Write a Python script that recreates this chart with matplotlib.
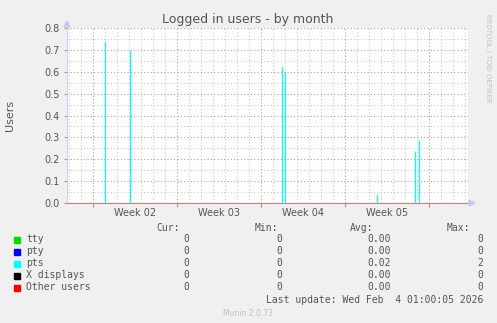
import numpy as np
import matplotlib.pyplot as plt
from matplotlib.patches import Rectangle, Polygon
from matplotlib.ticker import FixedLocator, MultipleLocator

W, H = 497, 323

# days since left edge of the graph
pts_day = [3.17, 5.25, 17.9, 18.15, 25.83, 29.0, 29.3]
pts_users = [0.74, 0.70, 0.62, 0.60, 0.04, 0.24, 0.29]

week_start = [2.17, 9.17, 16.17, 23.17, 30.17]
week_labels = ['Week 02', 'Week 03', 'Week 04', 'Week 05']

series = ['tty', 'pty', 'pts', 'X displays', 'Other users']
colors = ['#00e000', '#0000ff', '#00ffff', '#000000', '#ff0000']
cur = ['0', '0', '0', '0', '0']
mins = ['0', '0', '0', '0', '0']
avgs = ['0.00', '0.00', '0.02', '0.00', '0.00']
maxs = ['0', '0', '2', '0', '0']

txt = '#555555'


def fx(px):
    return px / W


def fy(py):
    return 1 - py / H


fig = plt.figure(figsize=(W / 100, H / 100), dpi=100, facecolor='#f0f0f0')
ax = fig.add_axes([fx(67), fy(203), (468 - 67) / W, (203 - 28) / H])
ax.set_facecolor('white')

ax.vlines(pts_day, 0, pts_users, color='#00ffff', linewidth=0.9, zorder=3)

ax.set_xlim(0, 33.42)
ax.set_ylim(0, 0.8)

ax.xaxis.set_major_locator(FixedLocator(week_start))
ax.xaxis.set_minor_locator(FixedLocator(np.arange(0.17, 33.4, 1.0)))
ax.set_xticklabels([])
ax.yaxis.set_minor_locator(MultipleLocator(0.05))
ax.set_yticks(np.arange(0, 0.81, 0.1))
ax.set_yticklabels(['%.1f' % v for v in np.arange(0, 0.81, 0.1)],
                   fontsize=7, color=txt)

ax.grid(which='minor', color='#c8c8c8', linestyle=(0, (1, 2)), linewidth=0.8)
ax.grid(which='major', color='#d89090', linestyle=(0, (1, 2)), linewidth=0.8)
ax.tick_params(which='major', axis='x', length=3, color='#c09090', direction='out')
ax.tick_params(which='major', axis='y', length=2, color='#c09090', pad=3)
ax.tick_params(which='minor', length=0)

for s in ['top', 'right']:
    ax.spines[s].set_visible(False)
ax.spines['left'].set_color('#d0d0f0')
ax.spines['bottom'].set_color('#d08080')

for i, lab in enumerate(week_labels):
    mid = (week_start[i] + week_start[i + 1]) / 2
    ax.text(mid, -0.025, lab, ha='center', va='top', fontsize=7, color=txt)

# axis arrows
fig.patches.append(Polygon([[fx(64), fy(27)], [fx(70), fy(27)], [fx(67), fy(21)]],
                           closed=True, color='#c8c8f0', transform=fig.transFigure))
fig.patches.append(Polygon([[fx(469), fy(200)], [fx(469), fy(206)], [fx(475), fy(203)]],
                           closed=True, color='#c8c8f0', transform=fig.transFigure))

fig.text(fx(248), fy(19), 'Logged in users - by month', ha='center', va='center',
         fontsize=9, color=txt)
fig.text(fx(10), fy(115), 'Users', rotation=90, ha='center', va='center',
         fontsize=8, color=txt)
fig.text(fx(488), fy(58), 'RRDTOOL / TOBI OETIKER', rotation=-90, ha='center',
         va='center', fontsize=5, color='#c0c0c0')

mono = dict(family='DejaVu Sans Mono', fontsize=7, color=txt, va='center')
fig.text(fx(180), fy(228), 'Cur:', ha='right', **mono)
fig.text(fx(278), fy(228), 'Min:', ha='right', **mono)
fig.text(fx(373), fy(228), 'Avg:', ha='right', **mono)
fig.text(fx(470), fy(228), 'Max:', ha='right', **mono)

for i, name in enumerate(series):
    y = 239.5 + i * 12
    fig.patches.append(Rectangle((fx(14), fy(y + 3)), 6 / W, 6 / H,
                                 color=colors[i], transform=fig.transFigure))
    fig.text(fx(26), fy(y), name, ha='left', **mono)
    fig.text(fx(189), fy(y), cur[i], ha='right', **mono)
    fig.text(fx(282), fy(y), mins[i], ha='right', **mono)
    fig.text(fx(391), fy(y), avgs[i], ha='right', **mono)
    fig.text(fx(483), fy(y), maxs[i], ha='right', **mono)

fig.text(fx(483), fy(300), 'Last update: Wed Feb  4 01:00:05 2026', ha='right', **mono)
fig.text(fx(248), fy(313), 'Munin 2.0.73', ha='center', va='center',
         fontsize=5.5, color='#c0c0c0')

fig.savefig('out.png', dpi=100, facecolor=fig.get_facecolor())
